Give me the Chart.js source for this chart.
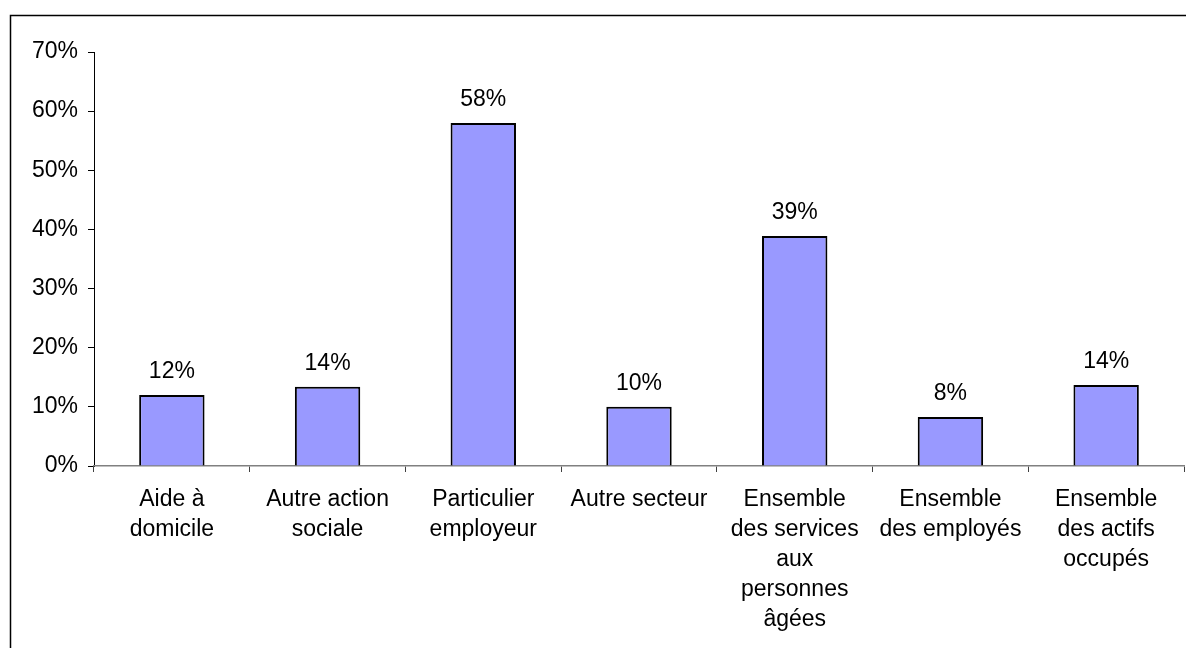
<!DOCTYPE html>
<html>
<head>
<meta charset="utf-8">
<script src="https://cdn.jsdelivr.net/npm/chart.js@4/dist/chart.umd.min.js"></script>
<style>
  body { margin: 0; background: #fff; }
  #wrap { width: 1186px; height: 648px; position: relative; }
</style>
</head>
<body>
<div id="wrap"><canvas id="barChart"></canvas></div>
<script>
// Data
const categories = [
    ['Aide à', 'domicile'],
    ['Autre action', 'sociale'],
    ['Particulier', 'employeur'],
    ['Autre secteur'],
    ['Ensemble', 'des services', 'aux', 'personnes', 'âgées'],
    ['Ensemble', 'des employés'],
    ['Ensemble', 'des actifs', 'occupés']
];
const values = [12.0, 13.4, 58.0, 10.0, 38.9, 8.3, 13.7];
const valueLabels = ['12%', '14%', '58%', '10%', '39%', '8%', '14%'];

const FONT = '"Liberation Sans", Arial, sans-serif';

// outer frame (left + top edges only visible)
const framePlugin = {
    id: 'frame',
    beforeDraw(chart) {
        const c = chart.ctx;
        c.save();
        c.strokeStyle = '#000';
        c.lineWidth = 1.5;
        c.beginPath();
        c.moveTo(10.5, 648);
        c.lineTo(10.5, 15.5);
        c.lineTo(1186, 15.5);
        c.stroke();
        c.restore();
    }
};

// value labels above bars
const valueLabelPlugin = {
    id: 'valueLabels',
    afterDatasetsDraw(chart) {
        const c = chart.ctx;
        const meta = chart.getDatasetMeta(0);
        c.save();
        c.font = '23px ' + FONT;
        c.fillStyle = '#000';
        c.textAlign = 'center';
        c.textBaseline = 'middle';
        meta.data.forEach((bar, i) => {
            c.fillText(valueLabels[i], bar.x, bar.y - 23);
        });
        c.restore();
    }
};

new Chart(document.getElementById('barChart'), {
    type: 'bar',
    data: {
        labels: categories,
        datasets: [{
            data: values,
            backgroundColor: '#9999FF',
            borderColor: '#000',
            borderWidth: 2,
            barPercentage: 0.42,
            categoryPercentage: 1
        }]
    },
    options: {
        responsive: true,
        maintainAspectRatio: false,
        animation: false,
        layout: { padding: { top: 52, right: 2, left: 0, bottom: 0 } },
        plugins: {
            legend: { display: false },
            tooltip: { enabled: false }
        },
        scales: {
            y: {
                min: 0,
                max: 70,
                afterFit: (s) => { s.width = 94; },
                border: { color: '#000', width: 1 },
                grid: { drawOnChartArea: false, drawTicks: true, tickLength: 6, color: '#000' },
                ticks: {
                    stepSize: 10,
                    padding: 10,
                    color: '#000',
                    font: { size: 23, family: FONT },
                    callback: (v) => v + '%'
                }
            },
            x: {
                afterFit: (s) => { s.height = 182; },
                border: { color: '#808080', width: 1.5 },
                grid: { offset: true, drawOnChartArea: false, drawTicks: true, tickLength: 6, color: '#404040' },
                ticks: {
                    padding: 13,
                    color: '#000',
                    maxRotation: 0,
                    autoSkip: false,
                    font: { size: 23, family: FONT, lineHeight: 1.3 }
                }
            }
        }
    },
    plugins: [framePlugin, valueLabelPlugin]
});
</script>
</body>
</html>
